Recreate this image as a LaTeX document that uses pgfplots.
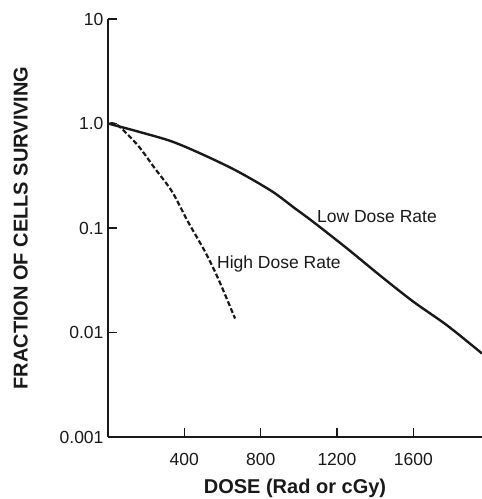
\documentclass[border=0pt]{standalone}
\usepackage{fontspec}
\setmainfont{Liberation Sans}
\usepackage{pgfplots}
\pgfplotsset{compat=1.18}
\begin{document}
\begin{tikzpicture}
\begin{axis}[
  scale only axis,
  width=374pt, height=418pt,
  xmin=0, xmax=1960,
  ymode=log, ymin=0.001, ymax=10,
  axis x line=bottom, axis y line=left,
  axis line style={-, line width=1.2pt, color=black!90},
  tick align=inside,
  major tick length=9pt,
  tick style={line width=1.2pt, color=black!90},
  xtick={400,800,1200,1600},
  xticklabels={400,800,1200,1600},
  ytick={0.001,0.01,0.1,1,10},
  yticklabels={0.001,0.01,0.1,1.0,10},
  minor tick num=0,
  log basis y=10,
  /pgf/number format/assume math mode=true,
  ticklabel style={font=\fontsize{17.5}{19}\selectfont, color=black!90},
  xticklabel style={yshift=-13pt},
  yticklabel style={xshift=-1pt},
  xlabel={\textbf{DOSE (Rad or cGy)}},
  ylabel={\textbf{FRACTION OF CELLS SURVIVING}},
  label style={font=\fontsize{20}{22}\selectfont, color=black!90},
  xlabel style={yshift=-6pt},
  ylabel style={yshift=25pt},
  clip=false,
]
\addplot[black!90, line width=2.4pt, smooth] coordinates {
  (0,1.0) (157,0.838) (335,0.673) (508,0.494) (681,0.347) (860,0.224) (980,0.154)
  (1074,0.115) (1253,0.0637) (1426,0.0351) (1599,0.0198) (1777,0.0117) (1960,0.0063)
};
\addplot[black!90, line width=2.2pt, dash pattern=on 5pt off 2.5pt, smooth] coordinates {
  (10,1.0) (52,0.96) (157,0.616) (246,0.371) (335,0.224) (419,0.115) (508,0.0596) (577,0.0329) (666,0.0136)
};
\node[anchor=west, font=\fontsize{17.5}{19}\selectfont, color=black!90, inner sep=0pt] at (axis cs:1095,0.13) {Low Dose Rate};
\node[anchor=west, font=\fontsize{17.5}{19}\selectfont, color=black!90, inner sep=0pt] at (axis cs:571,0.045) {High Dose Rate};
\end{axis}
\pgfresetboundingbox
\path[use as bounding box] (-108pt,-62pt) rectangle (374pt,437pt);
\end{tikzpicture}
\end{document}
